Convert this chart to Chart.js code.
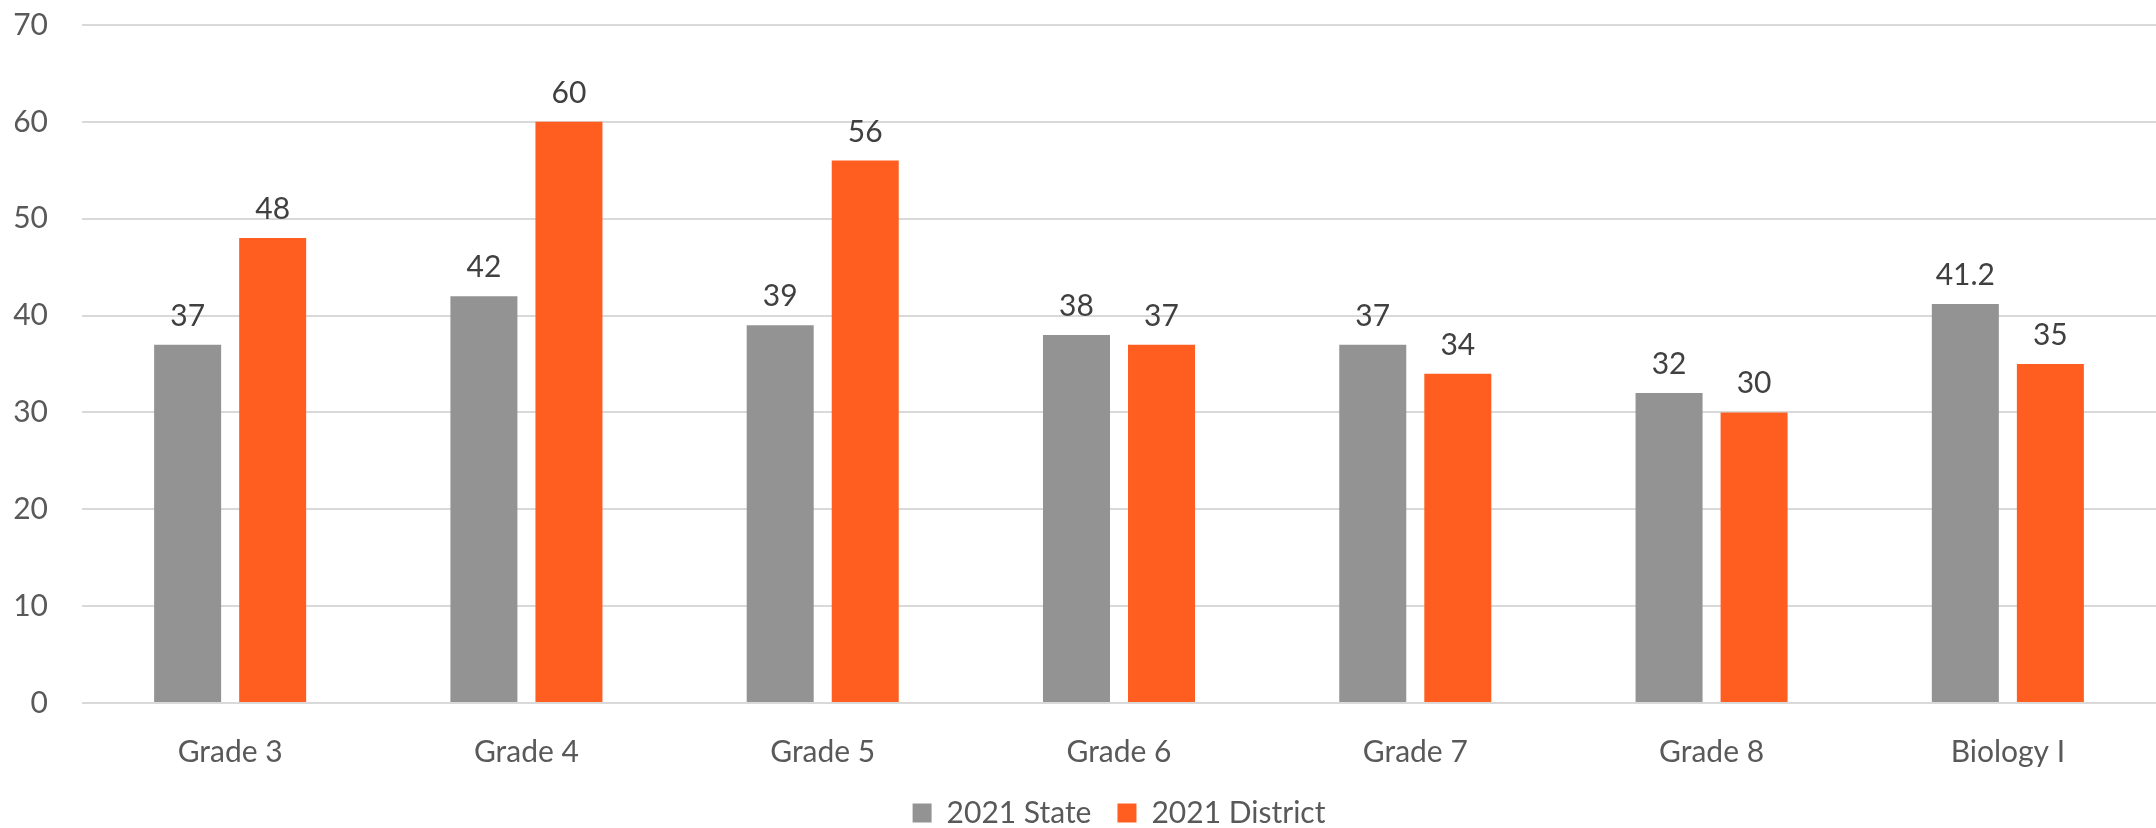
<!DOCTYPE html>
<html>
<head>
<meta charset="utf-8">
<script src="https://cdn.jsdelivr.net/npm/chart.js@4/dist/chart.umd.min.js"></script>
<style>
  html, body { margin: 0; padding: 0; background: #fff; }
  #wrap { width: 2156px; height: 828px; }
</style>
</head>
<body>
<div id="wrap"><canvas id="chart" width="2156" height="828"></canvas></div>
<script>
const categories = ["Grade 3", "Grade 4", "Grade 5", "Grade 6", "Grade 7", "Grade 8", "Biology I"];
const stateValues = [37, 42, 39, 38, 37, 32, 41.2];
const districtValues = [48, 60, 56, 37, 34, 30, 35];
const yTicks = [0, 10, 20, 30, 40, 50, 60, 70];

const FONT = "Lato, 'Noto Sans', sans-serif";

// value labels above each bar
const barLabels = {
  id: "barLabels",
  afterDatasetsDraw(chart) {
    const ctx = chart.ctx;
    ctx.save();
    ctx.font = "30px " + FONT;
    ctx.fillStyle = "#404040";
    ctx.textAlign = "center";
    ctx.textBaseline = "alphabetic";
    chart.data.datasets.forEach((ds, i) => {
      chart.getDatasetMeta(i).data.forEach((bar, j) => {
        ctx.fillText(String(ds.data[j]), bar.x, bar.y - 19);
      });
    });
    ctx.restore();
  }
};

new Chart(document.getElementById("chart").getContext("2d"), {
  type: "bar",
  data: {
    labels: categories,
    datasets: [
      { label: "2021 State", data: stateValues, backgroundColor: "#939393" },
      { label: "2021 District", data: districtValues, backgroundColor: "#FF5E20" }
    ]
  },
  options: {
    responsive: false,
    animation: false,
    layout: { padding: { top: 25, right: 0, left: 0, bottom: -10 } },
    datasets: {
      bar: { categoryPercentage: 0.574, barPercentage: 0.788 }
    },
    plugins: {
      tooltip: { enabled: false },
      legend: {
        position: "bottom",
        fullSize: false,
        labels: {
          font: { family: FONT, size: 30 },
          color: "#595959",
          boxWidth: 19,
          boxHeight: 19,
          padding: 26
        }
      }
    },
    scales: {
      x: {
        afterFit: s => { s.height = 69; },
        grid: { display: false, drawTicks: false },
        border: { display: false },
        ticks: { font: { family: FONT, size: 30 }, color: "#595959", padding: 31 }
      },
      y: {
        min: 0,
        max: 70,
        afterFit: s => { s.width = 82; s.paddingTop = 0; s.paddingBottom = 0; },
        afterBuildTicks: s => { s.ticks = yTicks.map(v => ({ value: v })); },
        grid: { color: "#d9d9d9", lineWidth: 2, drawTicks: false },
        border: { display: false },
        ticks: { font: { family: FONT, size: 30 }, color: "#595959", padding: 34 }
      }
    }
  },
  plugins: [barLabels]
});
</script>
</body>
</html>
